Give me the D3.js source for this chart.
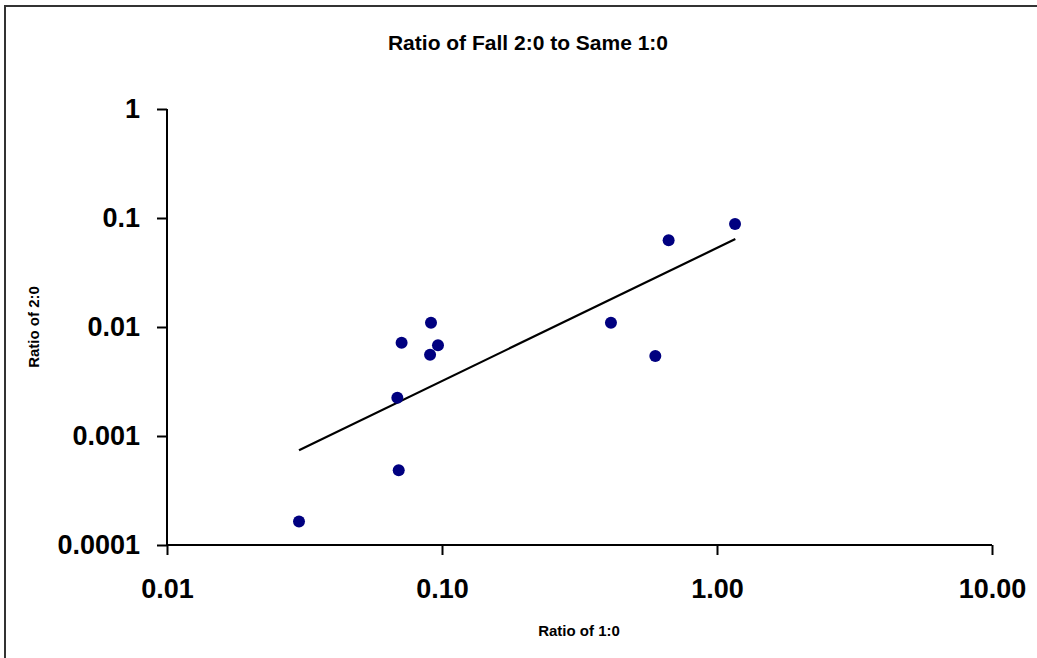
<!DOCTYPE html>
<html>
<head>
<meta charset="utf-8">
<script src="https://cdn.jsdelivr.net/npm/d3@7"></script>
<style>
  html, body { margin: 0; padding: 0; background: #fff; }
  svg { display: block; font-family: "Liberation Sans", Arial, sans-serif; }
</style>
</head>
<body>
<svg id="chart" width="1037" height="658"></svg>
<script>
// Data
const xValues = [0.0302, 0.0696, 0.0688, 0.0713, 0.0905, 0.0912, 0.0967, 0.4115, 0.5966, 0.667, 1.163];
const yValues = [0.000164, 0.000484, 0.00224, 0.00718, 0.00557, 0.01094, 0.00679, 0.01094, 0.00542, 0.0624, 0.0881];
// Trend line (power fit) end points as drawn
const trendX = [0.0302, 1.166];
const trendY = [0.00074, 0.0641];
const xTicks = [0.01, 0.1, 1, 10];
const xTickLabels = ["0.01", "0.10", "1.00", "10.00"];
const yTicks = [0.0001, 0.001, 0.01, 0.1, 1];
const yTickLabels = ["0.0001", "0.001", "0.01", "0.1", "1"];
const titleText = "Ratio of Fall 2:0 to Same 1:0";
const xTitle = "Ratio of 1:0";
const yTitle = "Ratio of 2:0";

const svg = d3.select("#chart");
const pLeft = 167, pRight = 992, pTop = 109, pBottom = 545;

const x = d3.scaleLog().domain([0.01, 10]).range([pLeft, pRight]);
const y = d3.scaleLog().domain([0.0001, 1]).range([pBottom, pTop]);

// outer frame
svg.append("rect").attr("x", 5).attr("y", 6).attr("width", 1040).attr("height", 660)
  .attr("fill", "#fff").attr("stroke", "#333").attr("stroke-width", 2);

// title
svg.append("text").attr("x", 528).attr("y", 50).attr("text-anchor", "middle")
  .attr("font-size", 21).attr("font-weight", "bold").text(titleText);

// axes
const xAxis = d3.axisBottom(x).tickValues(xTicks).tickSize(10).tickFormat((d, i) => xTickLabels[i]);
const gx = svg.append("g").attr("transform", `translate(0,${pBottom})`).call(xAxis);
gx.select(".domain").attr("stroke", "#000").attr("stroke-width", 2).attr("d", `M${pLeft},0H${pRight}`);
gx.selectAll(".tick line").attr("stroke", "#000").attr("stroke-width", 2);
gx.selectAll(".tick text").attr("font-size", 27).attr("font-weight", "bold")
  .attr("font-family", "Liberation Sans, Arial, sans-serif").attr("fill", "#000")
  .attr("y", 0).attr("dy", 53);

const yAxis = d3.axisLeft(y).tickValues(yTicks).tickSize(10).tickFormat((d, i) => yTickLabels[i]);
const gy = svg.append("g").attr("transform", `translate(${pLeft},0)`).call(yAxis);
gy.select(".domain").attr("stroke", "#000").attr("stroke-width", 2).attr("d", `M0,${pTop}V${pBottom}`);
gy.selectAll(".tick line").attr("stroke", "#000").attr("stroke-width", 2);
gy.selectAll(".tick text").attr("font-size", 27).attr("font-weight", "bold")
  .attr("font-family", "Liberation Sans, Arial, sans-serif").attr("fill", "#000").attr("x", -27);

// axis titles
svg.append("text").attr("x", 579).attr("y", 636).attr("text-anchor", "middle")
  .attr("font-size", 15).attr("font-weight", "bold").text(xTitle);
svg.append("text").attr("transform", "translate(39,327) rotate(-90)").attr("text-anchor", "middle")
  .attr("font-size", 15).attr("font-weight", "bold").text(yTitle);

// trend line
const trend = trendX.map((d, i) => [d, trendY[i]]);
svg.append("path").datum(trend)
  .attr("d", d3.line().x(d => x(d[0])).y(d => y(d[1])))
  .attr("fill", "none").attr("stroke", "#000").attr("stroke-width", 2.2);

// points
const pts = xValues.map((d, i) => [d, yValues[i]]);
svg.append("g").selectAll("circle").data(pts).join("circle")
  .attr("cx", d => x(d[0])).attr("cy", d => y(d[1])).attr("r", 6)
  .attr("fill", "#000080");
</script>
</body>
</html>
